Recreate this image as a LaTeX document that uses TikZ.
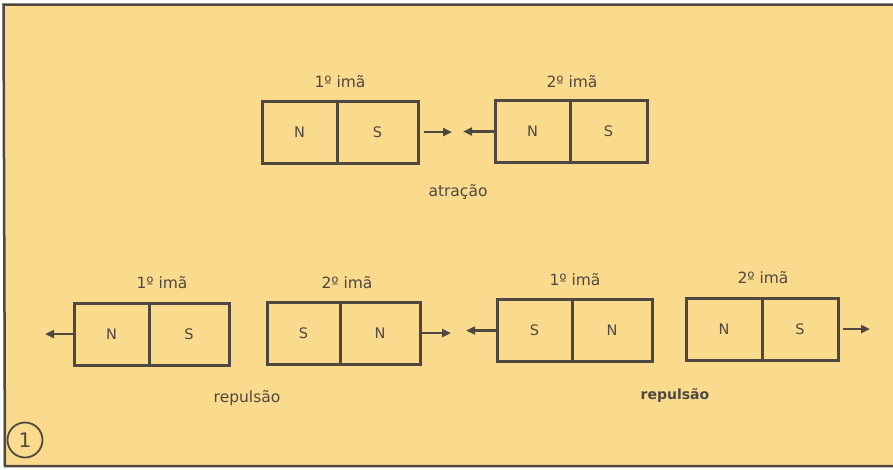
\documentclass[tikz,border=0pt]{standalone}
\usepackage{fontspec}
\setmainfont{DejaVu Sans}
\usetikzlibrary{arrows.meta}
\definecolor{paper}{RGB}{250,219,142}
\definecolor{ink}{RGB}{78,72,64}
\tikzset{
  half/.style={draw=ink, line width=3pt, minimum height=62pt, minimum width=#1, inner sep=0pt, text=ink, font=\fontsize{14.5}{14.5}\selectfont},
  lbl/.style={text=ink, font=\fontsize{15.5}{15.5}\selectfont, inner sep=0pt},
  arr/.style={draw=ink, line width=2.6pt, -{Triangle[length=9pt,width=8pt]}}
}
\begin{document}
\begin{tikzpicture}[x=1pt,y=-1pt]
\useasboundingbox (0,0) rectangle (893,469);
\fill[white] (0,0) rectangle (893,469);
\fill[paper] (3,4.5) rectangle (893,466);
\draw[ink, line width=2.5pt] (893,4.5) -- (3.5,4.5) -- (5,466) -- (893,466);
% top: attraction
\node[half=75pt] (t1n) at (299.5,132) {N};
\node[half=81pt] (t1s) at (377.5,132) {S};
\node[half=75pt] (t2n) at (532.5,131.5) {N};
\node[half=77pt] (t2s) at (608.5,131.5) {S};
\node[lbl] (t1l) at (340,82) {1º imã};
\node[lbl] (t2l) at (572,82) {2º imã};
\node[lbl] (tat) at (458,192) {atração};
\coordinate (ta1) at (452,132);
\coordinate (ta2) at (463,132);
\draw[arr, shorten <=4pt] (t1s.east) -- (ta1 |- t1s.east);
\draw[arr] (t2n.west) -- (ta2 |- t2n.west);
% bottom left: repulsion
\node[half=75pt] (an) at (111.5,334) {N};
\node[half=80pt] (as) at (189,334) {S};
\node[half=73pt] (bs) at (303.5,333) {S};
\node[half=80pt] (bn) at (380,333) {N};
\node[lbl] (al) at (162,283) {1º imã};
\node[lbl] (bl) at (347,283) {2º imã};
\node[lbl] (rep1) at (247,398) {repulsão};
\coordinate (aa) at (45,336);
\coordinate (ba) at (451,335);
\draw[arr] (an.west) -- (aa |- an.west);
\draw[arr] (bn.east) -- (ba |- bn.east);
% bottom right: repulsion
\node[half=75pt] (cs) at (534.5,330.5) {S};
\node[half=80pt] (cn) at (612,330.5) {N};
\node[half=76pt] (dn) at (724,329) {N};
\node[half=76pt] (ds) at (800,329) {S};
\node[lbl] (cl) at (575,280) {1º imã};
\node[lbl] (dl) at (763,278) {2º imã};
\node[lbl, font=\fontsize{14}{14}\selectfont\bfseries] (rep2) at (675,396) {repulsão};
\coordinate (ca) at (466,332);
\coordinate (da) at (870,331);
\draw[arr] (cs.west) -- (ca |- cs.west);
\draw[arr, shorten <=3pt] (ds.east) -- (da |- ds.east);
% figure number
\node[draw=ink, line width=1.8pt, circle, minimum size=35pt, inner sep=0pt, text=ink, font=\fontsize{20}{20}\selectfont] (num) at (25,440) {1};
\end{tikzpicture}
\end{document}
